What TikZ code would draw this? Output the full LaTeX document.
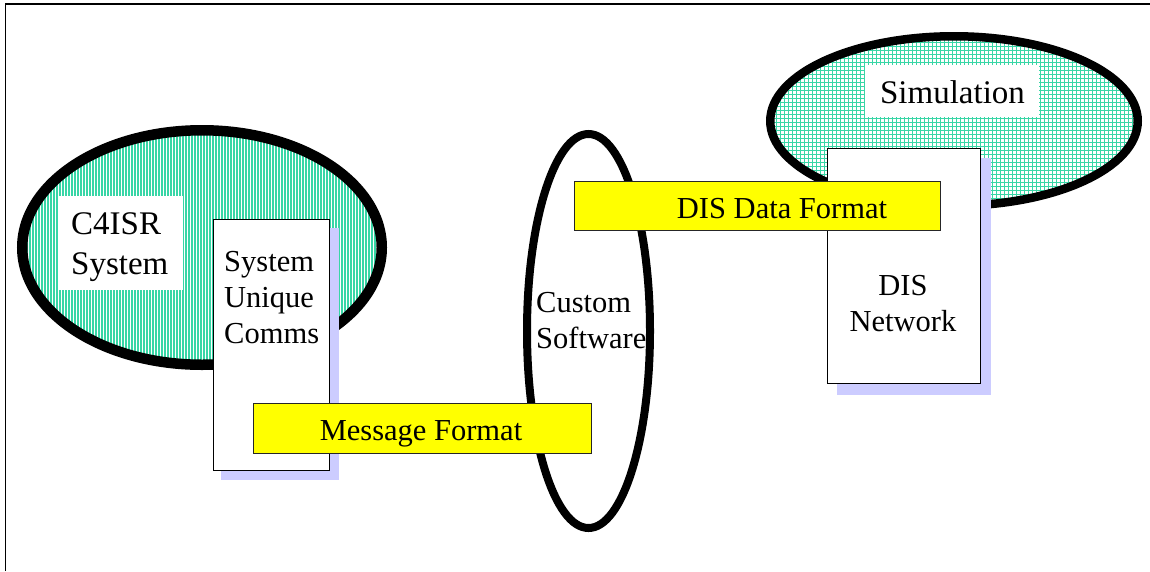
\documentclass[tikz,border=0pt]{standalone}
\usepackage{fontspec}
\setmainfont{Liberation Serif}
\definecolor{mint}{RGB}{56,214,166}
\definecolor{lavender}{RGB}{204,204,255}
\definecolor{msgyellow}{RGB}{255,255,0}
\tikzset{
  x=1pt, y=-1pt,
  txt/.style={font=\fontsize{30.5}{36}\selectfont, inner sep=0pt, align=left},
  bigtxt/.style={font=\fontsize{33}{40}\selectfont, inner sep=0pt, align=left},
  whitebox/.style={draw=black, line width=1.2pt, fill=white, inner sep=0pt, anchor=north west},
  labelbox/.style={fill=white, inner sep=0pt, anchor=north west},
  shadowbox/.style={fill=lavender, inner sep=0pt, anchor=north west},
  formatbox/.style={draw=black!85, line width=1.2pt, fill=msgyellow, inner sep=0pt, anchor=north west},
  outline/.style={draw=black, line width=#1},
}
\begin{document}
\begin{tikzpicture}
\useasboundingbox (0,0) rectangle (1150,571);
% frame
\draw[line width=1.6pt] (5.5,571) -- (5.5,3.7) -- (1150,3.7);

% C4ISR system: striped ellipse
\begin{scope}
  \clip (202,247.5) ellipse [x radius=179.75, y radius=117.25];
  \foreach \x in {18,21,...,390} \draw[mint, line width=2pt] (\x,120) -- (\x,375);
\end{scope}
\draw[outline=10.5pt] (202,247.5) ellipse [x radius=179.75, y radius=117.25];
\node[labelbox, minimum width=124, minimum height=94] (c4box) at (59,196) {};
\node[bigtxt, anchor=west] (c4txt) at (71,247.5) {C4ISR\\System};

% system unique comms
\node[shadowbox, minimum width=118, minimum height=252] (sucshadow) at (221,228) {};
\node[whitebox, minimum width=116, minimum height=251] (suc) at (213,219) {};
\node[txt, anchor=west] (suctxt) at (224,297.5) {System\\Unique\\Comms};

% simulation: gridded ellipse
\begin{scope}
  \clip (954,121) ellipse [x radius=183.75, y radius=84.75];
  \foreach \x in {764.5,768.5,...,1146} \draw[mint, line width=1pt] (\x,30) -- (\x,212);
  \foreach \y in {30.5,34.5,...,212} \draw[mint, line width=1pt] (764,\y) -- (1146,\y);
\end{scope}
\draw[outline=8.5pt] (954,121) ellipse [x radius=183.75, y radius=84.75];
\node[labelbox, minimum width=174, minimum height=52] (simbox) at (865,65) {};
\node[bigtxt, anchor=base] (simtxt) at (952.5,103) {Simulation};

% DIS network
\node[shadowbox, minimum width=154, minimum height=237] (disshadow) at (837,158) {};
\node[whitebox, minimum width=153, minimum height=235] (dis) at (827,148) {};
\node[txt, align=center] (distxt) at (903,303.4) {DIS\\Network};

% custom software
\draw[outline=8pt] (588.5,331) ellipse [x radius=61.5, y radius=197];
\node[txt, anchor=west] (custxt) at (536,321) {Custom\\Software};

% data format bars
\node[formatbox, minimum width=338, minimum height=50] (msg) at (253,403) {};
\node[txt, anchor=base] (msgtxt) at (421,440) {Message Format};
\node[formatbox, minimum width=366, minimum height=49] (disfmt) at (574,181) {};
\node[txt, anchor=base] (disfmttxt) at (782,218) {DIS Data Format};
\end{tikzpicture}
\end{document}
